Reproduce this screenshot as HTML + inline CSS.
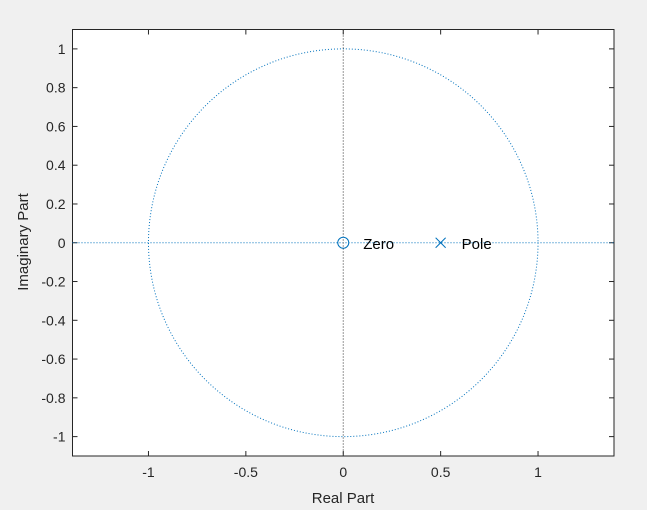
<!DOCTYPE html>
<html><head><meta charset="utf-8"><style>
body{margin:0;background:#f0f0f0;}
svg{display:block;font-family:"Liberation Sans",sans-serif;}
</style></head><body>
<svg width="647" height="510">
<rect x="72.5" y="29.5" width="541.5" height="426.5" fill="#fff" stroke="#262626" stroke-width="1"/>
<g id="ticks"></g>
<g id="marks"></g>
<text x="343" y="503" font-size="15" text-anchor="middle" fill="#262626">Real Part</text>
<text transform="translate(28,242) rotate(-90)" font-size="15" text-anchor="middle" fill="#262626">Imaginary Part</text>
</svg>
<script>
const xTicks=[-1,-0.5,0,0.5,1];
const xTickLabels=["-1","-0.5","0","0.5","1"];
const yTicks=[1,0.8,0.6,0.4,0.2,0,-0.2,-0.4,-0.6,-0.8,-1];
const yTickLabels=["1","0.8","0.6","0.4","0.2","0","-0.2","-0.4","-0.6","-0.8","-1"];
const zerosRe=[0];const zerosIm=[0];
const polesRe=[0.5];const polesIm=[0];
const xmin=-1.39,xmax=1.39,ymin=-1.1,ymax=1.1;
const L=72.5,R=614,T=29.5,B=456;
const sx=v=>L+(v-xmin)/(xmax-xmin)*(R-L);
const sy=v=>B-(v-ymin)/(ymax-ymin)*(B-T);
const NS="http://www.w3.org/2000/svg";
function mk(tag,attrs,parent){const e=document.createElementNS(NS,tag);for(const k in attrs)e.setAttribute(k,attrs[k]);parent.appendChild(e);return e;}
const tg=document.getElementById('ticks'),mg=document.getElementById('marks');
xTicks.forEach((v,i)=>{const x=sx(v);
const t1=mk('line',{x1:x,x2:x,y1:B,y2:B-5,stroke:'#262626'},tg);


const t2=mk('line',{x1:x,x2:x,y1:T,y2:T+5,stroke:'#262626'},tg);


const tx=mk('text',{x:x,y:B+21,'font-size':14,'text-anchor':'middle',fill:'#262626'},tg);tx.textContent=xTickLabels[i];

});
yTicks.forEach((v,i)=>{const y=sy(v);
const t1=mk('line',{x1:L,x2:L+5,y1:y,y2:y,stroke:'#262626'},tg);


const t2=mk('line',{x1:R,x2:R-5,y1:y,y2:y,stroke:'#262626'},tg);


const tx=mk('text',{x:L-7,y:y+5,'font-size':14,'text-anchor':'end',fill:'#262626'},tg);tx.textContent=yTickLabels[i];

});
const blue='#0072BD';
const c=mk('ellipse',{cx:sx(0),cy:sy(0),rx:sx(1)-sx(0),ry:sy(0)-sy(1),fill:'none',stroke:blue,'stroke-width':1,'stroke-dasharray':'1 2'},mg);


const h=mk('line',{x1:L,x2:R,y1:sy(0),y2:sy(0),stroke:blue,'stroke-dasharray':'1 2'},mg);


const vl=mk('line',{x1:sx(0),x2:sx(0),y1:T,y2:B,stroke:'#333','stroke-dasharray':'1 2'},mg);


zerosRe.forEach((r,i)=>{const z=mk('circle',{cx:sx(r),cy:sy(zerosIm[i]),r:5.5,fill:'none',stroke:blue,'stroke-width':1},mg);


const t=mk('text',{x:sx(r)+20,y:sy(zerosIm[i])+6,'font-size':15,fill:'#000'},mg);t.textContent='Zero';

});
polesRe.forEach((r,i)=>{const x=sx(r),y=sy(polesIm[i]);
const p=mk('path',{d:`M${x-5},${y-5}L${x+5},${y+5}M${x-5},${y+5}L${x+5},${y-5}`,stroke:blue,'stroke-width':1,fill:'none'},mg);


const t=mk('text',{x:x+21,y:y+6,'font-size':15,fill:'#000'},mg);t.textContent='Pole';

});
</script>
</body></html>
